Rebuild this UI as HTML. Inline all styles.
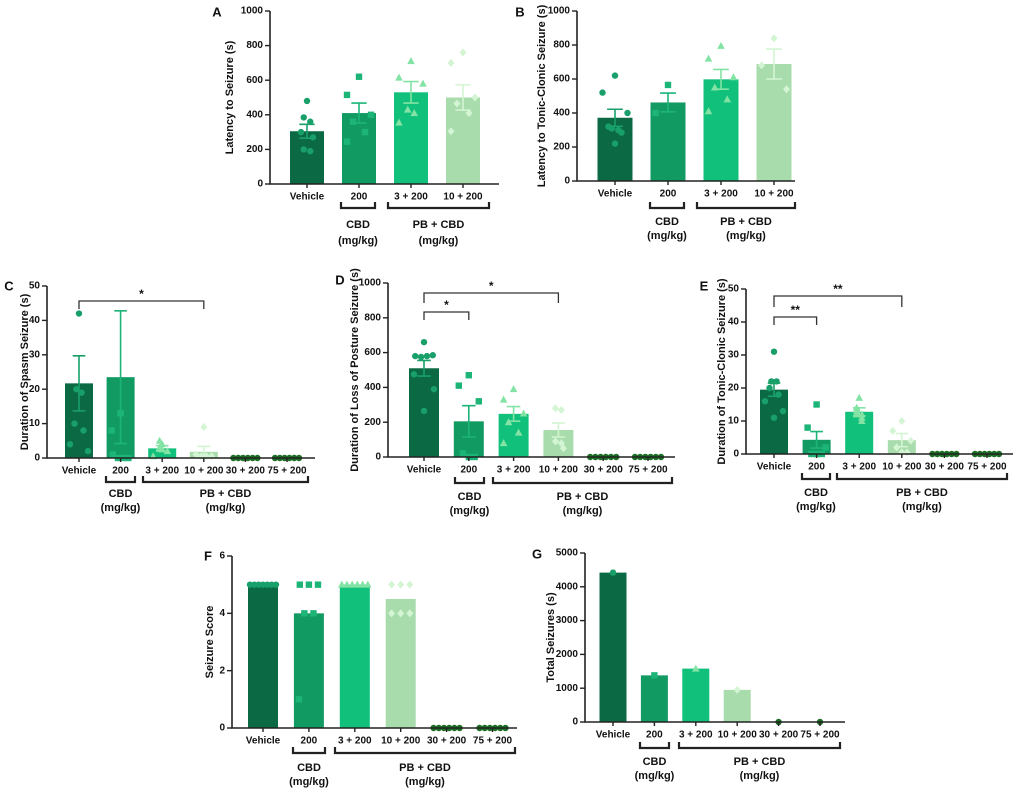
<!DOCTYPE html>
<html><head><meta charset="utf-8">
<style>
body{margin:0;background:#fff;}
svg{display:block;font-family:"Liberation Sans",Arial,sans-serif;font-weight:bold;}
</style></head>
<body>
<svg id="fig" width="1022" height="793" viewBox="0 0 1022 793" xmlns="http://www.w3.org/2000/svg"></svg>
<script>
// ---- data ----
const cats4 = ["Vehicle","200","3 + 200","10 + 200"];
const cats6 = ["Vehicle","200","3 + 200","10 + 200","30 + 200","75 + 200"];

const aMeans = [305,410,530,500];
const aSem = [40,58,62,73];
const aPts = [[480,385,360,300,270,200,190],[620,515,400,360,300,245],[710,615,580,430,410,355],[760,700,500,465,410,305]];
const aTicks = [0,200,400,600,800,1000];

const bMeans = [372,462,598,688];
const bSem = [50,55,58,88];
const bPts = [[620,520,400,320,310,300,285,220],[565,400],[795,720,610,550,480,410],[840,680,540]];
const bTicks = [0,200,400,600,800,1000];

const cMeans = [21.7,23.5,2.8,1.8,0,0];
const cSem = [8,19.3,0.8,1.6,0,0];
const cPts = [[42,20,19,10,8,4,2],[13,8,1,0,0,0],[5,4,3,2.5,2,0.5],[9,1,0.5,0.5,0.5],[0,0,0,0,0,0],[0,0,0,0,0,0]];
const cTicks = [0,10,20,30,40,50];

const dMeans = [510,205,248,155,0,0];
const dSem = [45,90,42,40,0,0];
const dPts = [[660,580,575,580,585,475,390,265],[470,410,320,20,0,0],[390,330,250,200,140,80],[280,270,90,80,50],[0,0,0,0,0,0],[0,0,0,0,0,0]];
const dTicks = [0,200,400,600,800,1000];

const eMeans = [19.5,4.3,12.8,4.2,0,0];
const eSem = [2,2.5,1.2,2,0,0];
const ePts = [[31,22,22,20,18,16,13,11],[15,8,2,0,0,0],[17,14,13,12,12,11,10],[10,7,4,2,0.5,0.5],[0,0,0,0,0,0],[0,0,0,0,0,0]];
const eTicks = [0,10,20,30,40,50];

const fMeans = [5,4,5,4.5,0,0];
const fPts = [[5,5,5,5,5,5,5],[5,5,5,4,4,1],[5,5,5,5,5,5],[5,5,5,4,4,4],[0,0,0,0,0,0],[0,0,0,0,0,0]];
const fTicks = [0,2,4,6];

const gMeans = [4420,1380,1580,950,0,0];
const gPts = [[4420],[1380],[1580],[950],[0],[0]];
const gTicks = [0,1000,2000,3000,4000,5000];

// ---- styles ----
const barCol = ['#0b6a44','#129a63','#11c07b','#a9dcac','#1c6e24','#1c6e24'];
const dotCol = ['#19a06a','#1cb577','#82e3a4','#d4f5d4','#1c6e24','#1c6e24'];
const shapes = ['circle','square','tri','diamond','circle','circle'];

const NS="http://www.w3.org/2000/svg";
const svg=document.getElementById('fig');
function el(tag,attrs,parent){const e=document.createElementNS(NS,tag);for(const k in attrs)e.setAttribute(k,attrs[k]);(parent||svg).appendChild(e);return e;}
function txt(s,x,y,size,anchor,parent,rot){const t=el('text',{x:x,y:y,'font-size':size,'text-anchor':anchor||'middle','dominant-baseline':'middle',fill:'#111'},parent);if(rot)t.setAttribute('transform','rotate(-90 '+x+' '+y+')');t.textContent=s;return t;}

function marker(shape,x,y,col,g){
  let m;
  if(shape==='circle')m=el('circle',{cx:x,cy:y,r:3.2,fill:col},g);
  else if(shape==='square')m=el('rect',{x:x-3.2,y:y-3.2,width:6.4,height:6.4,fill:col},g);
  else if(shape==='tri')m=el('polygon',{points:(x)+','+(y-4)+' '+(x-3.8)+','+(y+3)+' '+(x+3.8)+','+(y+3),fill:col},g);
  else m=el('polygon',{points:x+','+(y-4)+' '+(x+3.5)+','+y+' '+x+','+(y+4)+' '+(x-3.5)+','+y,fill:col},g);
  
  
}

const altPattern=[0,-1,1,-0.5,0.5,-1,1,0];

function panel(c){
  const g=el('g',{});
  
  
  const yMax=c.ticks[c.ticks.length-1];
  const ys=v=>c.y0-(v/yMax)*(c.y0-c.yTop);
  const xs=i=>c.c0+i*c.sp;
  const L=txt(c.letter,c.lx,c.ly,13,'middle',g);
  
  const T=txt(c.title,c.tx,(c.y0+c.yTop)/2,11,'middle',g,true);
  
  c.means.forEach((m,i)=>{
    if(m>0){const r=el('rect',{x:xs(i)-c.bw/2,y:ys(m),width:c.bw,height:c.y0-ys(m),fill:barCol[i]},g);
      
      }
  });
  if(c.pts)c.pts.forEach((arr,i)=>{
    const w=c.jit||5;
    arr.forEach((v,j)=>{
      const same=arr.filter(u=>Math.abs(ys(u)-ys(v))<5);
      let off;
      if(same.length>1){const k=same.length;const idx=arr.slice(0,j).filter(u=>Math.abs(ys(u)-ys(v))<5).length;
        const ww=Math.min(w*1.3,(c.bw-4)/(k-1));off=(idx-(k-1)/2)*ww;}
      else off=altPattern[j%altPattern.length]*(c.bw/2-5);
      marker(shapes[i],xs(i)+off,ys(v),dotCol[i],g);
    });
  });
  if(c.sem)c.sem.forEach((s,i)=>{
    if(s<=0)return;const x=xs(i),m=c.means[i],cw=c.bw*0.45;
    const e=el('path',{d:'M'+x+' '+ys(m-s)+'V'+ys(m+s)+'M'+(x-cw/2)+' '+ys(m+s)+'h'+cw+'M'+(x-cw/2)+' '+ys(m-s)+'h'+cw,stroke:dotCol[i],'stroke-width':1.6,fill:'none'},g);
    
  });
  const ax=el('path',{d:'M'+c.ax+' '+c.yTop+'V'+c.y0+'H'+c.end,stroke:'#222','stroke-width':1.6,fill:'none'},g);
  
  c.ticks.forEach(t=>{
    el('line',{x1:c.ax-5,x2:c.ax,y1:ys(t),y2:ys(t),stroke:'#222','stroke-width':1.4},g);
    const tl=txt(String(t),c.ax-7,ys(t),10,'end',g);
    
  });
  c.cats.forEach((s,i)=>{
    el('line',{x1:xs(i),x2:xs(i),y1:c.y0,y2:c.y0+4,stroke:'#222','stroke-width':1.4},g);
    const tl=txt(s,xs(i),c.tly,10,'middle',g);
    
  });
  [[c.cbd[0],c.cbd[1],'CBD'],[c.pb[0],c.pb[1],'PB + CBD']].forEach(b=>{
    const p=el('path',{d:'M'+b[0]+' '+(c.bry-6)+'V'+c.bry+'H'+b[1]+'V'+(c.bry-6),stroke:'#222','stroke-width':2.2,fill:'none'},g);
    
    const mx=(b[0]+b[1])/2;
    const t1=txt(b[2],mx,c.gy1,11,'middle',g);
    const t2=txt('(mg/kg)',mx,c.gy2,11,'middle',g);
  });
  (c.sig||[]).forEach(s=>{
    const x1=xs(s.a),x2=xs(s.b);
    const p=el('path',{d:'M'+x1+' '+(s.y+s.h)+'V'+s.y+'H'+x2+'V'+(s.y+s.h),stroke:'#333','stroke-width':1.3,fill:'none'},g);
    
    const st=txt(s.label,(x1+x2)/2,s.y-6,12,'middle',g);
    
  });
}

panel({letter:'A',lx:217,ly:13,title:'Latency to Seizure (s)',tx:230,ax:270,y0:184,yTop:11,ticks:aTicks,c0:307,sp:52,bw:34,end:499,
  cats:cats4,means:aMeans,sem:aSem,pts:aPts,tly:197,bry:208,cbd:[341,375],pb:[388,489],gy1:225,gy2:241});
panel({letter:'B',lx:520,ly:13,title:'Latency to Tonic-Clonic Seizure (s)',tx:542,ax:577,y0:181,yTop:11,ticks:bTicks,c0:615,sp:53,bw:35,end:795,
  cats:cats4,means:bMeans,sem:bSem,pts:bPts,tly:194,bry:208,cbd:[650,684],pb:[697,795],gy1:222,gy2:236});
panel({letter:'C',lx:9,ly:287,title:'Duration of Spasm Seizure (s)',tx:25,ax:47,y0:458,yTop:286,ticks:cTicks,c0:79,sp:41.6,bw:28,end:315,
  cats:cats6,means:cMeans,sem:cSem,pts:cPts,jit:4,tly:471,bry:482,cbd:[106,135],pb:[143,308],gy1:494,gy2:508,
  sig:[{a:0,b:3,y:301,h:8,label:'*'}]});
panel({letter:'D',lx:340,ly:281,title:'Duration of Loss of Posture Seizure (s)',tx:355,ax:388,y0:457,yTop:283,ticks:dTicks,c0:424,sp:44.8,bw:30,end:675,
  cats:cats6,means:dMeans,sem:dSem,pts:dPts,jit:4.5,tly:470,bry:483,cbd:[455,484],pb:[493,672],gy1:497,gy2:511,
  sig:[{a:0,b:3,y:293,h:10,label:'*'},{a:0,b:1,y:312,h:8,label:'*'}]});
panel({letter:'E',lx:704,ly:287,title:'Duration of Tonic-Clonic Seizure (s)',tx:722,ax:746,y0:454,yTop:289,ticks:eTicks,c0:774,sp:42.6,bw:28,end:1013,
  cats:cats6,means:eMeans,sem:eSem,pts:ePts,jit:4,tly:467,bry:479,cbd:[802,830],pb:[837,1007],gy1:493,gy2:507,
  sig:[{a:0,b:3,y:296,h:11,label:'**'},{a:0,b:1,y:317,h:8,label:'**'}]});
panel({letter:'F',lx:208,ly:557,title:'Seizure Score',tx:210,ax:232,y0:728,yTop:556,ticks:fTicks,c0:263,sp:45.9,bw:30,end:517,
  cats:cats6,means:fMeans,sem:null,pts:fPts,jit:7,tly:741,bry:753,cbd:[293,325],pb:[335,515],gy1:768,gy2:782});
panel({letter:'G',lx:537,ly:555,title:'Total Seizures (s)',tx:551,ax:585,y0:722,yTop:553,ticks:gTicks,c0:613,sp:41.4,bw:27,end:845,
  cats:cats6,means:gMeans,sem:null,pts:gPts,tly:735,bry:748,cbd:[640,669],pb:[679,840],gy1:762,gy2:776});
</script>
</body></html>
